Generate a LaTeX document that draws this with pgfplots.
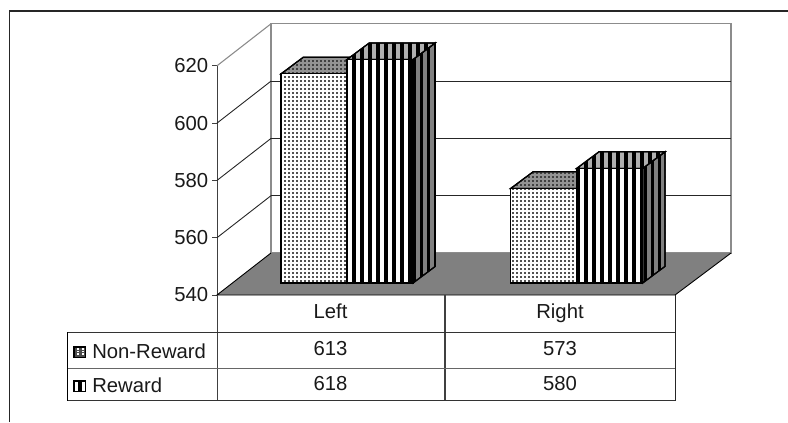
\documentclass[border=0pt]{standalone}
\usepackage{pgfplots}
\pgfplotsset{compat=1.18}
\usepackage{fontspec}
\setmainfont{Liberation Sans}
\usetikzlibrary{patterns}

% one drawing unit: all lengths below are given in these units
\newlength{\uu}\setlength{\uu}{0.75pt}

\pgfdeclarepatternformonly{bardots}{\pgfqpoint{-1pt}{-1pt}}{\pgfqpoint{4pt}{4pt}}{\pgfqpoint{3pt}{3pt}}{%
  \pgfpathrectangle{\pgfqpoint{0.2pt}{0.2pt}}{\pgfqpoint{1.4pt}{1.4pt}}\pgfusepath{fill}}
\pgfdeclarepatternformonly{barstripes}{\pgfqpoint{-1pt}{-1pt}}{\pgfqpoint{7pt}{7pt}}{\pgfqpoint{6pt}{6pt}}{%
  \pgfpathrectangle{\pgfqpoint{0pt}{-1pt}}{\pgfqpoint{3pt}{8pt}}\pgfusepath{fill}}
\pgfdeclarepatternformonly{sidestripes}{\pgfqpoint{-1pt}{-1pt}}{\pgfqpoint{6pt}{6pt}}{\pgfqpoint{5.25pt}{5.25pt}}{%
  \pgfpathrectangle{\pgfqpoint{0pt}{-1pt}}{\pgfqpoint{2.6pt}{8pt}}\pgfusepath{fill}}

\definecolor{floorgray}{HTML}{808080}
\definecolor{wallgray}{HTML}{8C8C8C}
\definecolor{topgray}{HTML}{B0B0B0}

\tikzset{
  dotface/.style={fill=white,postaction={pattern=bardots,pattern color=black!68}},
  dottop/.style={fill=floorgray!85,postaction={pattern=bardots,pattern color=black!75}},
  dotside/.style={fill=floorgray,postaction={pattern=bardots,pattern color=black!75}},
  stripeface/.style={fill=white,postaction={pattern=barstripes,pattern color=black}},
  stripetop/.style={fill=topgray,postaction={pattern=barstripes,pattern color=black}},
  stripeside/.style={fill=floorgray,postaction={pattern=sidestripes,pattern color=black}},
}

% bar depth: 22.3 units across and 5.8 axis values up
\newcommand{\solidbar}[5]{% left edge, value, front, top, side
  \pgfmathsetmacro{\xb}{#1+66}
  \pgfmathsetmacro{\xc}{#1+66+22.3}
  \pgfmathsetmacro{\xd}{#1+22.3}
  \pgfmathsetmacro{\vt}{#2+5.8}
  \pgfmathsetmacro{\bt}{540+5.8}
  \addplot[forget plot,draw=black,line width=1.2\uu,yshift=12\uu,#5] coordinates {(\xb,540) (\xc,\bt) (\xc,\vt) (\xb,#2)} -- cycle;
  \addplot[forget plot,draw=black,line width=1.2\uu,yshift=12\uu,#4] coordinates {(#1,#2) (\xd,\vt) (\xc,\vt) (\xb,#2)} -- cycle;
  \addplot[forget plot,draw=black,line width=1.2\uu,yshift=12\uu,#3] coordinates {(#1,540) (\xb,540) (\xb,#2) (#1,#2)} -- cycle;
}

\begin{document}
\begin{tikzpicture}
\useasboundingbox (0,0) rectangle (788\uu,422\uu);
\begin{axis}[
  at={(217\uu,127\uu)},anchor=origin,
  scale only axis,
  width=458\uu,height=229.2\uu,
  xmin=217,xmax=675,ymin=540,ymax=620,
  clip=false,
  axis y line=left,
  axis x line=none,
  y axis line style={-,draw=black!75,line width=1\uu},
  ytick={540,560,580,600,620},
  xtick=\empty,
  major tick length=5\uu,
  y tick style={draw=black!75,line width=1\uu},
  tick align=outside,
  yticklabel style={font=\fontsize{15.2}{18}\selectfont,text=black!90,inner sep=3.5\uu},
  /pgf/number format/assume math mode=true,
]
% back wall with its grid lines
\addplot[forget plot,draw=wallgray,line width=1.2\uu,fill=white] coordinates {(271,554.66) (731,554.66) (731,634.66) (271,634.66)} -- cycle;
\addplot[forget plot,draw=black!85,line width=0.9\uu] coordinates {(271,574.66) (731,574.66)};
\addplot[forget plot,draw=black!85,line width=0.9\uu] coordinates {(271,594.66) (731,594.66)};
\addplot[forget plot,draw=black!85,line width=0.9\uu] coordinates {(271,614.66) (731,614.66)};
% side wall lines
\addplot[forget plot,draw=black!85,line width=0.9\uu] coordinates {(217,560) (271,574.66)};
\addplot[forget plot,draw=black!85,line width=0.9\uu] coordinates {(217,580) (271,594.66)};
\addplot[forget plot,draw=black!85,line width=0.9\uu] coordinates {(217,600) (271,614.66)};
\addplot[forget plot,draw=wallgray,line width=1.1\uu] coordinates {(217,620) (271,634.66)};
% floor
\addplot[forget plot,fill=floorgray,draw=none] coordinates {(217,540) (675,540) (731,554.66) (271,554.66)} -- cycle;
\addplot[forget plot,draw=black,line width=0.9\uu] coordinates {(731,554.66) (675,540) (217,540) (271,554.66)};
% bars
\solidbar{281}{613}{dotface}{dottop}{dotside}
\solidbar{347}{618}{stripeface}{stripetop}{stripeside}
\solidbar{510.7}{573}{dotface}{dottop}{dotside}
\solidbar{576.7}{580}{stripeface}{stripetop}{stripeside}
\end{axis}
% surrounding frame and data table
\begin{scope}[x=\uu,y=-\uu,shift={(0,422\uu)}]
\draw[black!85,line width=1.2\uu] (9.5,422) -- (9.5,11) -- (788,11);
\draw[black!75,line width=1\uu] (217,295) -- (217,400.5);
\draw[black!75,line width=1.1\uu] (445,295) -- (445,400.5);
\draw[black!85,line width=0.9\uu] (675,295) -- (675,400.5);
\draw[black!80,line width=1\uu] (67,332) -- (675,332);
\draw[black!60,line width=1\uu] (67,368) -- (675,368);
\draw[black!80,line width=1\uu] (67,400.5) -- (675,400.5);
\draw[black,line width=0.9\uu] (67.5,332) -- (67.5,400.5);
\tikzset{cell/.style={font=\fontsize{15.2}{18}\selectfont,text=black!90,inner sep=0pt,anchor=base}}
\node[cell] at (330.5,318) {Left};
\node[cell] at (560,318) {Right};
\node[cell] at (330.5,355) {613};
\node[cell] at (560,355) {573};
\node[cell] at (330.5,390) {618};
\node[cell] at (560,390) {580};
\node[cell,anchor=base west] at (92,358) {Non-Reward};
\node[cell,anchor=base west] at (92,392) {Reward};
% legend keys
\draw[black,line width=1.2\uu,fill=black!70] (74,347) rectangle (85.5,357.5);
\foreach \kx in {77,81.5} \foreach \ky in {349.5,352.3,355}
  \fill[white] (\kx,\ky) rectangle +(2.2,-1.6);
\draw[black,line width=1.2\uu,fill=white] (74,381) rectangle (85.5,391.5);
\fill[black] (78,381) rectangle (81.5,391.5);
\end{scope}
\end{tikzpicture}
\end{document}
